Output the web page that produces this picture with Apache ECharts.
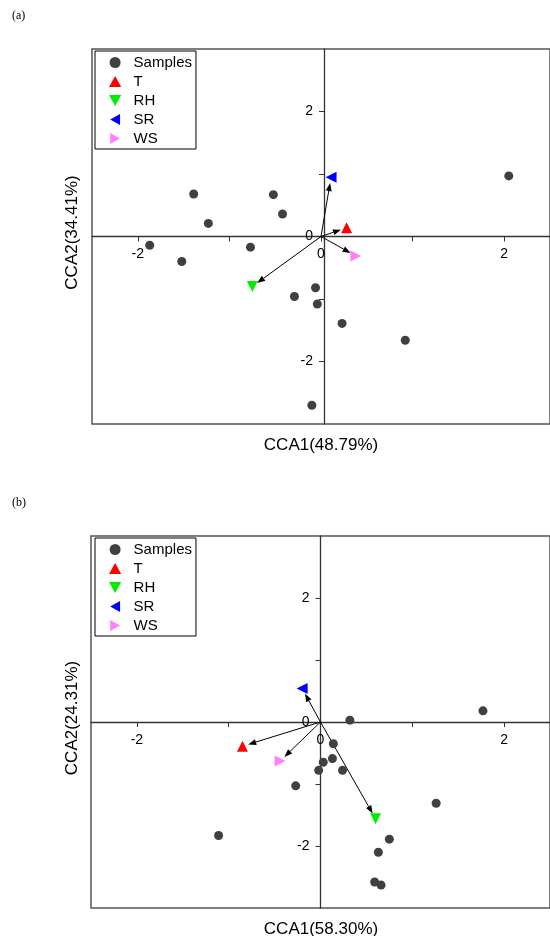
<!DOCTYPE html>
<html>
<head>
<meta charset="utf-8">
<script src="https://cdn.jsdelivr.net/npm/echarts@6/dist/echarts.min.js"></script>
<style>
  html, body { margin: 0; padding: 0; background: #fff; }
  #main { width: 550px; height: 936px; }
</style>
</head>
<body>
<div id="main"></div>
<script>
// sample scores, panel (a)
const samplesA = [
  [2.05, 0.97], [-1.39, 0.68], [-1.23, 0.21], [-0.52, 0.67], [-0.42, 0.36],
  [-1.87, -0.14], [-1.52, -0.40], [-0.77, -0.17], [-0.06, -0.82], [-0.29, -0.96],
  [-0.04, -1.08], [0.23, -1.39], [0.92, -1.66], [-0.10, -2.70]
]
// sample scores, panel (b)
const samplesB = [
  [1.77, 0.18], [0.32, 0.03], [0.14, -0.35], [0.13, -0.59], [0.03, -0.65],
  [-0.02, -0.78], [0.24, -0.78], [-0.27, -1.03], [1.26, -1.31], [-1.11, -1.83],
  [0.75, -1.89], [0.63, -2.10], [0.59, -2.58], [0.66, -2.63]
]
// environmental factors: T, RH, SR, WS
const envNames = ['T', 'RH', 'SR', 'WS']
const envA = [[0.28, 0.14], [-0.75, -0.80], [0.11, 0.95], [0.38, -0.31]]
const envB = [[-0.85, -0.39], [0.60, -1.56], [-0.20, 0.54], [-0.44, -0.63]]
const axisTitles = [
  ['CCA1(48.79%)', 'CCA2(34.41%)'],
  ['CCA1(58.30%)', 'CCA2(24.31%)']
]
const labelTicks = [-2, 0, 2]
const minorTicks = [-2, -1, 0, 1, 2]

const envColors = ['#ff0000', '#00ee00', '#0000ff', '#ff80ff']
const envSymbols = [
  'path://M5,0L10,9L0,9Z',
  'path://M0,0L10,0L5,9Z',
  'path://M0,5L9,0L9,10Z',
  'path://M0,0L9,5L0,10Z'
]
const font = 'Liberation Sans, Arial, sans-serif'

const myChart = echarts.init(document.getElementById('main'))

const grids = [
  { left: 92, top: 49, width: 464, height: 375 },
  { left: 91, top: 536, width: 459, height: 372 }
]

// axes are pushed into the middle of the box with offset (ranges are symmetric)
function makeX (i) {
  return {
    type: 'value', gridIndex: i, min: -2.5, max: 2.5,
    offset: -grids[i].height / 2,
    axisLine: { onZero: false, lineStyle: { color: '#333', width: 1.3 } },
    axisTick: { show: true, length: 5, customValues: minorTicks, lineStyle: { color: '#333' } },
    axisLabel: { customValues: labelTicks, margin: 11, fontSize: 14, color: '#000', fontFamily: font },
    splitLine: { show: false }
  }
}
function makeY (i) {
  return {
    type: 'value', gridIndex: i, min: -3, max: 3,
    offset: -grids[i].width / 2,
    axisLine: { onZero: false, lineStyle: { color: '#333', width: 1.3 } },
    axisTick: { show: true, length: 5, customValues: minorTicks, lineStyle: { color: '#333' } },
    axisLabel: { customValues: labelTicks, margin: 11, fontSize: 14, color: '#000', fontFamily: font },
    splitLine: { show: false }
  }
}

// arrow from origin to each factor, stopped short of the marker
function renderArrow (params, api) {
  const p0 = api.coord([0, 0])
  const p1 = api.coord([api.value(0), api.value(1)])
  const dx = p1[0] - p0[0]
  const dy = p1[1] - p0[1]
  const len = Math.sqrt(dx * dx + dy * dy)
  const ux = dx / len
  const uy = dy / len
  const tip = [p1[0] - ux * 6, p1[1] - uy * 6]
  const base = [tip[0] - ux * 8, tip[1] - uy * 8]
  return {
    type: 'group',
    children: [
      { type: 'line', shape: { x1: p0[0], y1: p0[1], x2: base[0], y2: base[1] }, style: { stroke: '#000', lineWidth: 1 } },
      {
        type: 'polygon',
        shape: { points: [tip, [base[0] - uy * 3, base[1] + ux * 3], [base[0] + uy * 3, base[1] - ux * 3]] },
        style: { fill: '#000' }
      }
    ]
  }
}

const series = []
const panels = [[samplesA, envA], [samplesB, envB]]
panels.forEach(function (p, i) {
  series.push({
    type: 'custom', xAxisIndex: i, yAxisIndex: i, data: p[1],
    renderItem: renderArrow, clip: false, z: 2, silent: true
  })
  series.push({
    name: 'Samples', type: 'scatter', xAxisIndex: i, yAxisIndex: i,
    data: p[0], symbol: 'circle', symbolSize: 9, z: 3,
    itemStyle: { color: '#404040', opacity: 1 }
  })
  envNames.forEach(function (n, k) {
    series.push({
      name: n, type: 'scatter', xAxisIndex: i, yAxisIndex: i,
      data: [p[1][k]], symbol: envSymbols[k], symbolSize: 11, z: 4,
      itemStyle: { color: envColors[k], opacity: 1 }
    })
  })
})

function makeLegend (top) {
  return {
    orient: 'vertical', left: 95, top: top,
    padding: [3, 4, 2, 14], itemGap: 2,
    itemWidth: 27, itemHeight: 11,
    borderColor: '#000', borderWidth: 1,
    textStyle: { fontSize: 15, lineHeight: 17, color: '#000', fontFamily: font },
    data: [{ name: 'Samples', icon: 'circle' }].concat(envNames.map(function (n, k) {
      return { name: n, icon: envSymbols[k] }
    }))
  }
}

const graphics = []
const panelTop = [49, 536]
const panelH = [375, 372]
axisTitles.forEach(function (t, i) {
  graphics.push({
    type: 'text',
    style: { text: t[0], font: '17px ' + font, fill: '#000', textAlign: 'center', textVerticalAlign: 'middle' },
    position: [321, panelTop[i] + panelH[i] + 21]
  })
  graphics.push({
    type: 'text', rotation: Math.PI / 2,
    style: { text: t[1], font: '17px ' + font, fill: '#000', textAlign: 'center', textVerticalAlign: 'middle' },
    position: [72, panelTop[i] + panelH[i] / 2 - 4]
  })
})
graphics.push({ type: 'text', position: [12, 10], style: { text: '(a)', font: '12px Liberation Serif, serif', fill: '#000' } })
graphics.push({ type: 'text', position: [12, 497], style: { text: '(b)', font: '12px Liberation Serif, serif', fill: '#000' } })

const option = {
  backgroundColor: '#fff',
  animation: false,
  grid: grids.map(function (g) {
    return Object.assign({ show: true, borderColor: '#555', borderWidth: 1.5, backgroundColor: 'transparent' }, g)
  }),
  xAxis: [makeX(0), makeX(1)],
  yAxis: [makeY(0), makeY(1)],
  legend: [makeLegend(51), makeLegend(538)],
  graphic: graphics,
  series: series
}

myChart.setOption(option)
</script>
</body>
</html>
